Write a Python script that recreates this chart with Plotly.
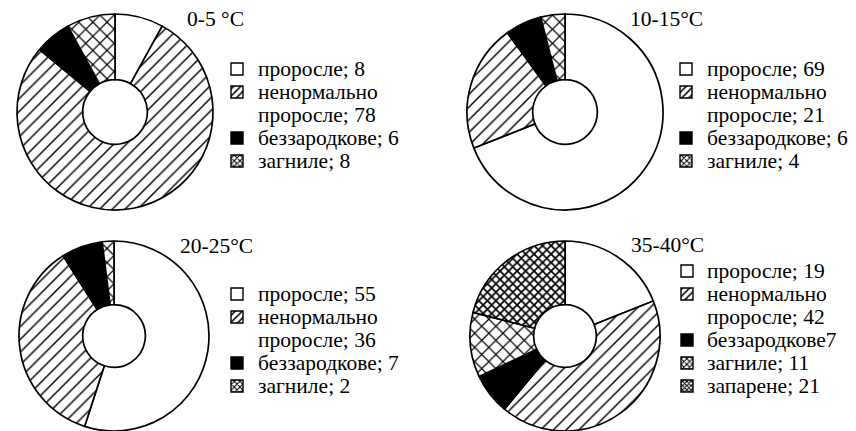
import plotly.graph_objects as go

# ---------------- data ----------------
titles = ["0-5 °C", "10-15°C", "20-25°C", "35-40°C"]
categories = ["проросле", "ненормально проросле", "беззародкове", "загниле", "запарене"]

values_0_5 = [8, 78, 6, 8]
values_10_15 = [69, 21, 6, 4]
values_20_25 = [55, 36, 7, 2]
values_35_40 = [19, 42, 7, 11, 21]

legend_0_5 = ["проросле; 8", "ненормально<br>проросле; 78", "беззародкове; 6", "загниле; 8"]
legend_10_15 = ["проросле; 69", "ненормально<br>проросле; 21", "беззародкове; 6", "загниле; 4"]
legend_20_25 = ["проросле; 55", "ненормально<br>проросле; 36", "беззародкове; 7", "загниле; 2"]
legend_35_40 = ["проросле; 19", "ненормально<br>проросле; 42", "беззародкове7", "загниле; 11", "запарене; 21"]

all_values = [values_0_5, values_10_15, values_20_25, values_35_40]
all_legends = [legend_0_5, legend_10_15, legend_20_25, legend_35_40]

# ---------------- styles ----------------
OFF = 8                      # page body margin of the browser
W, H = 856 - OFF, 431 - OFF  # figure size so it fits the window exactly
FONT = "Liberation Serif, Times New Roman, serif"
FS = 21.5
fill_colors = ["white", "white", "black", "white", "white"]
pie_shapes = ["", "/", "", "x", "x"]
pie_sizes = [8, 9, 8, 10, 6]
pie_solid = [0.2, 0.16, 0.2, 0.22, 0.5]
sw_shapes = ["", "/", "", "x", "x"]
sw_sizes = [5, 5, 5, 4, 3]
sw_solid = [0.2, 0.3, 0.2, 0.45, 0.55]

# layout of each panel (screen-pixel geometry)
panels = [
    dict(cx=115, cy=112, r=98, title_x=215, title_y=19, sw_x=237, txt_x=256, leg_y=69, step=23),
    dict(cx=565, cy=112, r=98, title_x=666, title_y=19, sw_x=686, txt_x=705, leg_y=69, step=23),
    dict(cx=114, cy=336, r=95, title_x=216, title_y=246, sw_x=237, txt_x=256, leg_y=294, step=23),
    dict(cx=565, cy=336, r=95, title_x=667, title_y=245, sw_x=687, txt_x=705, leg_y=271, step=23),
]


def px(x):
    return (x - OFF) / W


def py(y):
    return 1 - (y - OFF) / H


fig = go.Figure()
annotations = []

for vals, leg, title, p in zip(all_values, all_legends, titles, panels):
    n = len(vals)
    cats = categories[:n]
    x0 = max(0.0, px(p["cx"] - p["r"]))
    x1 = min(1.0, px(p["cx"] + p["r"]))
    y0 = max(0.0, py(p["cy"] + p["r"]))
    y1 = min(1.0, py(p["cy"] - p["r"]))
    fig.add_trace(go.Pie(
        labels=cats, values=vals, sort=False, direction="clockwise", rotation=0,
        hole=0.33, textinfo="none", hoverinfo="label+value", showlegend=False,
        domain=dict(x=[x0, x1], y=[y0, y1]),
        marker=dict(
            colors=fill_colors[:n],
            line=dict(color="black", width=1.7),
            pattern=dict(shape=pie_shapes[:n], size=pie_sizes[:n], solidity=pie_solid[:n],
                         fgcolor="black", fillmode="replace"),
        ),
    ))

    # title
    annotations.append(dict(text=title, x=px(p["title_x"]), y=py(p["title_y"]),
                            xref="paper", yref="paper", xanchor="center", yanchor="middle",
                            showarrow=False, font=dict(family=FONT, size=FS, color="black")))

    # legend: text lines + patterned swatches
    line_idx = 0
    for k, item in enumerate(leg):
        lines = item.split("<br>")
        cy = p["leg_y"] + line_idx * p["step"]
        fig.add_trace(go.Bar(
            x=[p["sw_x"] - OFF], y=[12], base=[cy - 6 - OFF], width=[12],
            xaxis="x", yaxis="y", showlegend=False, hoverinfo="skip",
            marker=dict(color=fill_colors[k], line=dict(color="black", width=1.4),
                        pattern=dict(shape=sw_shapes[k], size=sw_sizes[k], solidity=sw_solid[k],
                                     fgcolor="black", bgcolor=fill_colors[k], fillmode="replace")),
        ))
        for ln in lines:
            annotations.append(dict(text=ln, x=px(p["txt_x"]), y=py(p["leg_y"] + line_idx * p["step"]),
                                    xref="paper", yref="paper", xanchor="left", yanchor="middle",
                                    showarrow=False,
                                    font=dict(family=FONT, size=FS, color="black")))
            line_idx += 1

fig.update_layout(
    width=W, height=H, autosize=False,
    margin=dict(l=0, r=0, t=0, b=0),
    paper_bgcolor="white", plot_bgcolor="rgba(0,0,0,0)",
    barmode="overlay",
    xaxis=dict(range=[0, W], visible=False, fixedrange=True, domain=[0, 1]),
    yaxis=dict(range=[H, 0], visible=False, fixedrange=True, domain=[0, 1]),
    annotations=annotations,
    font=dict(family=FONT, color="black"),
)

fig.write_html("out.html")
